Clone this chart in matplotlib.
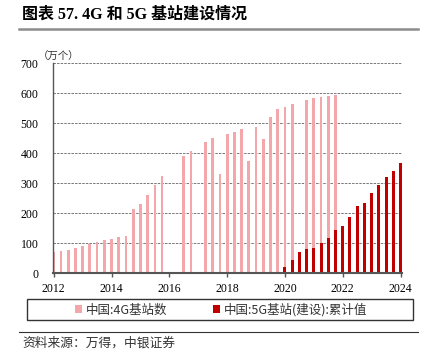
import numpy as np
import matplotlib
matplotlib.use("Agg")
import matplotlib.pyplot as plt
from matplotlib.lines import Line2D
from matplotlib.patches import Patch, Rectangle

# =========================================================
# DATA (quarterly, 2012 .. 2024Q1, 万个)
# =========================================================

nan = np.nan

bs_4g = [69, 72, 78, 83, 89, 98, 104, 111, 113, 119,
         124, 214, 229, 260, 295, 322, nan, nan, 391, 408,
         nan, 438, 449, 330, 463, 470, 481, 374, 488, 446,
         521, 546, 553, 562, nan, 578, 584, 587, 589, 592,
         nan, nan, nan, nan, nan, nan, nan, nan, nan]

bs_5g = [nan] * 32 + [21, 43, 71, 79, 84, 99, 118, 144, 158,
                      187, 224, 233, 267, 295, 321, 340, 367]

tick_labels = ["2012", "2014", "2016", "2018", "2020", "2022", "2024"]

label_4g = "中国:4G基站数"
label_5g = "中国:5G基站(建设):累计值"

# =========================================================
# STYLE
# =========================================================

plt.rcParams["font.family"] = ["Liberation Serif", "Noto Sans CJK SC"]

pink = "#F4A7AB"
red = "#C00000"
cjk = ["Noto Sans CJK SC", "DejaVu Sans"]

W, H = 421, 358
fig = plt.figure(figsize=(W / 100, H / 100), dpi=100)

ax = fig.add_axes([53 / W, 1 - 273 / H, (402 - 53) / W, (273 - 63) / H])

x = np.arange(len(bs_4g))

ax.bar(x, bs_4g, width=0.38, color=pink, zorder=2)
ax.bar(x, bs_5g, width=0.42, color=red, zorder=3)

# =========================================================
# AXES
# =========================================================

ax.set_xlim(-0.1, 48.2)
ax.set_ylim(0, 700)
ax.set_yticks(range(0, 701, 100))
ax.set_xticks(np.arange(0, 49, 8))
ax.set_xticklabels(tick_labels)

ax.tick_params(axis="y", length=0, pad=10.5, labelsize=8.5)
ax.tick_params(axis="x", length=3, width=1, color="#555555",
               direction="out", pad=4, labelsize=8.5)

ax.grid(axis="y", color="#777777", linestyle=(0, (2.5, 1.2)),
        linewidth=0.7, zorder=0)

for side in ["top", "right"]:
    ax.spines[side].set_visible(False)
ax.spines["left"].set_color("#555555")
ax.spines["left"].set_linewidth(1.0)
ax.spines["bottom"].set_color("#555555")
ax.spines["bottom"].set_linewidth(1.5)
ax.spines["bottom"].set_zorder(4)

fig.text(38 / W, 1 - 57 / H, "（万个）", family=cjk, fontsize=7.5,
         color="#333333", va="center", ha="left")

# =========================================================
# TITLE / LEGEND / SOURCE
# =========================================================

fig.text(22 / W, 1 - 15 / H, "图表 57. 4G 和 5G 基站建设情况",
         fontsize=11.5, weight="bold", va="center", ha="left")
fig.add_artist(Line2D([19 / W, 418 / W], [1 - 29 / H, 1 - 29 / H],
                      color="#8C8C8C", linewidth=1.8))

fig.add_artist(Rectangle((27 / W, 1 - 320 / H), 386 / W, 21 / H,
                         transform=fig.transFigure, facecolor="white",
                         edgecolor="#333333", linewidth=1.0))

handles = [Patch(facecolor=pink, edgecolor="none"),
           Patch(facecolor=red, edgecolor="none")]
leg = fig.legend(handles, [label_4g, label_5g], ncol=2,
                 loc="center", bbox_to_anchor=(221 / W, 1 - 310 / H),
                 frameon=False, handlelength=0.6, handleheight=0.6,
                 handletextpad=0.3, columnspacing=3.6,
                 prop={"family": cjk, "size": 9})
for t in leg.get_texts():
    t.set_color("#333333")

fig.add_artist(Line2D([19 / W, 418 / W], [1 - 332 / H, 1 - 332 / H],
                      color="#333333", linewidth=0.8))

fig.text(22 / W, 1 - 343 / H, "资料来源：万得，中银证券", family=cjk,
         fontsize=9.2, style="italic", color="#333333",
         va="center", ha="left")

fig.savefig("out.png", dpi=100)
